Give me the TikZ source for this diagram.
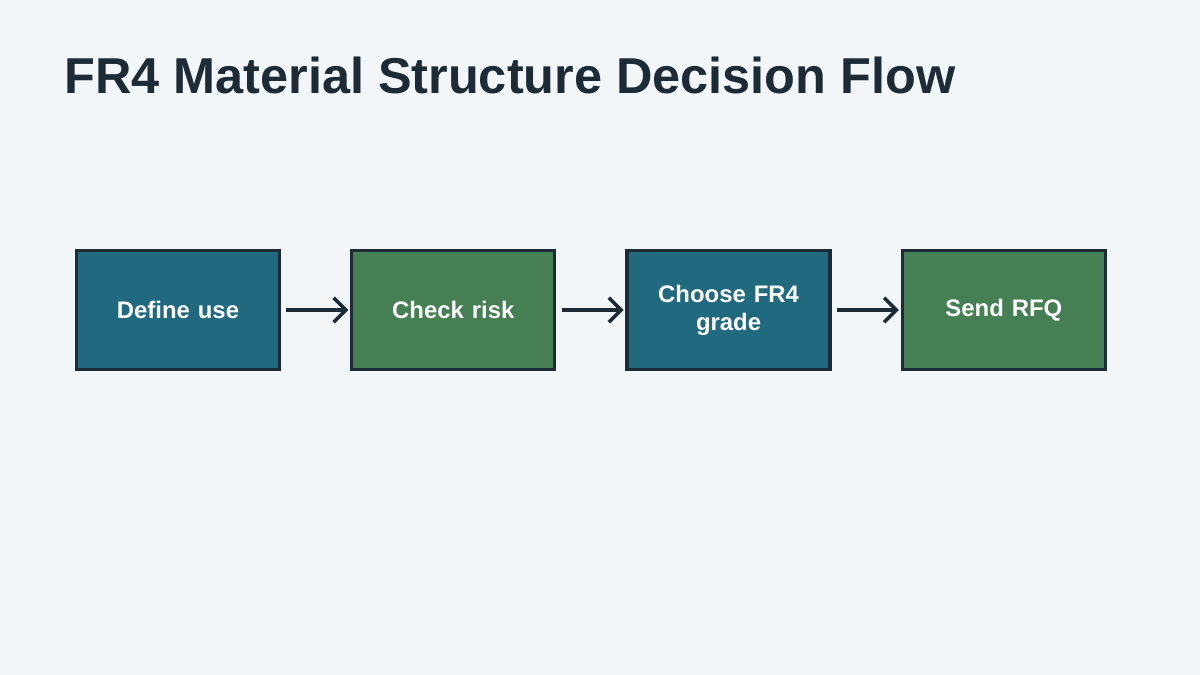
\documentclass[tikz,border=0pt]{standalone}
\usepackage{fontspec}
\setmainfont{Liberation Sans}
\usetikzlibrary{positioning,arrows.meta}
\definecolor{bgcol}{HTML}{F2F6F9}
\definecolor{inkcol}{HTML}{1C2B36}
\definecolor{stepblue}{HTML}{21697F}
\definecolor{stepgreen}{HTML}{467F53}
\begin{document}
\begin{tikzpicture}[x=0.02cm,y=-0.02cm,
    flowbox/.style={draw=inkcol, line width=1.9pt, minimum width=4.06cm, minimum height=2.38cm,
        text width=3.6cm, align=center, text=white, font=\fontsize{13.6}{16}\selectfont\bfseries},
    flow/.style={draw=inkcol, line width=2pt, -{Straight Barb[length=7pt,width=14pt]}},
    node distance=1.38cm]
    \fill[bgcol] (0,0) rectangle (1200,675);
    \useasboundingbox (0,0) rectangle (1200,675);
    \node[anchor=base west, text=inkcol, font=\fontsize{28.7}{34}\selectfont\bfseries, inner sep=0pt]
        (title) at (64,94) {FR4 Material Structure Decision Flow};

    \node[flowbox, fill=stepblue] (use) at (178,310) {Define use};
    \node[flowbox, fill=stepgreen, right=of use] (risk) {Check risk};
    \node[flowbox, fill=stepblue, right=of risk] (grade) {Choose FR4\\grade};
    \node[flowbox, fill=stepgreen, right=of grade] (rfq) {Send RFQ};

    % connectors
    \draw[flow] ([xshift=3pt]use.east) -- ([xshift=-1pt]risk.west);
    \draw[flow] ([xshift=3pt]risk.east) -- ([xshift=-1pt]grade.west);
    \draw[flow] ([xshift=3pt]grade.east) -- ([xshift=-1pt]rfq.west);
\end{tikzpicture}
\end{document}
